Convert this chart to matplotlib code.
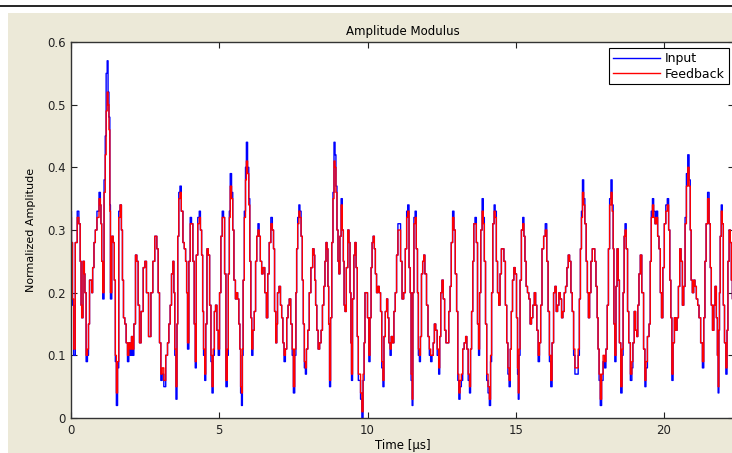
import matplotlib
matplotlib.use("Agg")
import matplotlib.pyplot as plt
from matplotlib.patches import Rectangle
from matplotlib.lines import Line2D

# sample times in microseconds
t_us = [
    0.00, 0.03, 0.07, 0.11, 0.18, 0.24, 0.29, 0.33, 0.35, 0.37,
    0.44, 0.46, 0.48, 0.54, 0.57, 0.61, 0.64, 0.69, 0.71, 0.75,
    0.80, 0.84, 0.91, 0.98, 1.00, 1.02, 1.05, 1.09, 1.14, 1.17,
    1.20, 1.24, 1.26, 1.30, 1.32, 1.34, 1.41, 1.44, 1.48, 1.51,
    1.55, 1.59, 1.63, 1.68, 1.72, 1.75, 1.79, 1.84, 1.88, 1.93,
    1.97, 2.02, 2.06, 2.09, 2.15, 2.20, 2.24, 2.29, 2.33, 2.40,
    2.47, 2.51, 2.58, 2.65, 2.74, 2.78, 2.87, 2.92, 2.96, 3.01,
    3.05, 3.10, 3.16, 3.23, 3.28, 3.32, 3.37, 3.41, 3.46, 3.48,
    3.52, 3.56, 3.59, 3.61, 3.66, 3.69, 3.75, 3.80, 3.84, 3.89,
    3.91, 3.95, 4.00, 4.04, 4.09, 4.13, 4.18, 4.20, 4.25, 4.30,
    4.35, 4.38, 4.43, 4.45, 4.49, 4.53, 4.56, 4.61, 4.65, 4.70,
    4.74, 4.77, 4.82, 4.85, 4.90, 4.94, 4.99, 5.03, 5.08, 5.12,
    5.17, 5.19, 5.26, 5.28, 5.33, 5.35, 5.39, 5.44, 5.47, 5.52,
    5.57,
    5.60, 5.64, 5.68, 5.71, 5.73, 5.77, 5.79, 5.82, 5.87, 5.90,
    5.93, 5.98, 6.01, 6.05, 6.08, 6.11, 6.16, 6.20, 6.25, 6.28,
    6.33, 6.36, 6.41, 6.45, 6.50, 6.57, 6.61, 6.66, 6.71, 6.77,
    6.81, 6.85, 6.88, 6.93, 6.95, 6.98, 7.05, 7.08, 7.13, 7.16,
    7.21, 7.25, 7.30, 7.34, 7.38, 7.44, 7.48, 7.52, 7.57, 7.60,
    7.62, 7.67, 7.70, 7.74, 7.78, 7.82, 7.85, 7.89, 7.92, 7.96,
    8.01, 8.06, 8.12, 8.18, 8.21, 8.23, 8.27, 8.31, 8.36, 8.41,
    8.46, 8.50, 8.55, 8.58, 8.62, 8.65, 8.68, 8.70, 8.74, 8.77,
    8.82, 8.85, 8.89, 8.92, 8.95, 8.99, 9.02, 9.05, 9.09, 9.13,
    9.17, 9.20, 9.22, 9.26, 9.31, 9.36, 9.39, 9.43, 9.45, 9.47,
    9.52, 9.56, 9.59, 9.64, 9.67, 9.71, 9.74, 9.79, 9.83, 9.87,
    9.90, 9.93, 9.98, 10.02, 10.07, 10.10, 10.14, 10.17, 10.21, 10.25,
    10.28, 10.33, 10.37, 10.42, 10.46, 10.50, 10.54, 10.57, 10.63, 10.66,
    10.70, 10.74, 10.78, 10.82, 10.87, 10.91, 10.96, 11.00, 11.05, 11.09,
    11.14, 11.19,
    11.25, 11.30, 11.34, 11.37, 11.43, 11.45, 11.49, 11.52, 11.54, 11.59,
    11.62, 11.67, 11.70, 11.73, 11.77, 11.80, 11.84, 11.88, 11.91, 11.96,
    12.02, 12.06, 12.11, 12.15, 12.20, 12.23, 12.28, 12.32, 12.38, 12.42,
    12.45, 12.49, 12.53, 12.58, 12.62, 12.67, 12.71, 12.77, 12.80, 12.85,
    12.89, 12.94, 12.98, 13.03, 13.06, 13.10, 13.14, 13.19, 13.23, 13.29,
    13.33, 13.37, 13.42, 13.46, 13.49, 13.53, 13.57, 13.60, 13.65, 13.69,
    13.73, 13.76, 13.80, 13.84, 13.89, 13.92, 13.96, 14.00, 14.04, 14.09,
    14.13, 14.17, 14.20, 14.25, 14.29, 14.32, 14.37, 14.40, 14.45, 14.49,
    14.54, 14.57, 14.63, 14.67, 14.72, 14.75, 14.80, 14.83, 14.87, 14.91,
    14.96, 15.00, 15.05, 15.07, 15.10, 15.12, 15.17, 15.21, 15.26, 15.29,
    15.33, 15.37, 15.42, 15.46, 15.51, 15.55, 15.60, 15.65, 15.69, 15.73,
    15.78, 15.82, 15.86, 15.91, 15.97, 16.02, 16.07, 16.11, 16.16, 16.20,
    16.25, 16.30, 16.34, 16.39, 16.43, 16.48, 16.52, 16.57, 16.61, 16.66,
    16.70, 16.75, 16.79, 16.84,
    16.88, 16.93, 16.97, 17.02, 17.08, 17.13, 17.16, 17.20, 17.23, 17.27,
    17.31, 17.35, 17.40, 17.43, 17.47, 17.51, 17.56, 17.60, 17.65, 17.68,
    17.73, 17.76, 17.79, 17.83, 17.87, 17.92, 17.97, 18.02, 18.06, 18.11,
    18.14, 18.19, 18.23, 18.27, 18.30, 18.32, 18.36, 18.40, 18.43, 18.48,
    18.51, 18.57, 18.60, 18.64, 18.67, 18.70, 18.75, 18.79, 18.83, 18.90,
    18.93, 18.97, 19.02, 19.06, 19.10, 19.13, 19.18, 19.22, 19.28, 19.34,
    19.37, 19.41, 19.47, 19.52, 19.55, 19.59, 19.63, 19.67, 19.72, 19.76,
    19.81, 19.85, 19.90, 19.93, 19.99, 20.03, 20.09, 20.13, 20.18, 20.21,
    20.25, 20.28, 20.33, 20.37, 20.42, 20.46, 20.51, 20.55, 20.60, 20.64,
    20.69, 20.73, 20.78, 20.82, 20.87, 20.90, 20.93, 20.98, 21.02, 21.07,
    21.11, 21.16, 21.20, 21.27, 21.32, 21.36, 21.40, 21.44, 21.50, 21.54,
    21.58, 21.61, 21.66, 21.70, 21.74, 21.79, 21.81, 21.84, 21.86, 21.88,
    21.91, 21.95, 21.98, 22.02, 22.06, 22.11, 22.14, 22.17, 22.22, 22.25,
    22.29, 22.32,
]

input_amp = [
    0.33, 0.28, 0.18, 0.10, 0.28, 0.33, 0.31, 0.25, 0.18, 0.16,
    0.25, 0.23, 0.20, 0.09, 0.10, 0.15, 0.22, 0.22, 0.20, 0.24,
    0.28, 0.30, 0.33, 0.36, 0.34, 0.31, 0.25, 0.19, 0.38, 0.45,
    0.55, 0.57, 0.52, 0.48, 0.34, 0.19, 0.29, 0.28, 0.22, 0.09,
    0.02, 0.08, 0.33, 0.34, 0.30, 0.22, 0.16, 0.15, 0.12, 0.09,
    0.12, 0.10, 0.13, 0.10, 0.15, 0.26, 0.25, 0.18, 0.12, 0.17,
    0.24, 0.25, 0.20, 0.13, 0.20, 0.25, 0.29, 0.27, 0.20, 0.12,
    0.06, 0.07, 0.05, 0.10, 0.12, 0.15, 0.18, 0.23, 0.25, 0.20,
    0.10, 0.03, 0.15, 0.29, 0.36, 0.37, 0.33, 0.28, 0.27, 0.25,
    0.20, 0.11, 0.25, 0.32, 0.31, 0.25, 0.15, 0.08, 0.26, 0.32,
    0.33, 0.30, 0.26, 0.17, 0.10, 0.06, 0.15, 0.27, 0.26, 0.18,
    0.09, 0.04, 0.10, 0.17, 0.18, 0.14, 0.10, 0.20, 0.29, 0.33,
    0.32, 0.23, 0.05, 0.10, 0.23, 0.33, 0.39, 0.36, 0.30, 0.22,
    0.19,
    0.20, 0.19, 0.15, 0.11, 0.04, 0.02, 0.10, 0.22, 0.33, 0.40,
    0.44, 0.40, 0.35, 0.25, 0.16, 0.10, 0.14, 0.17, 0.25, 0.29,
    0.31, 0.29, 0.25, 0.23, 0.24, 0.20, 0.16, 0.23, 0.28, 0.32,
    0.30, 0.27, 0.17, 0.12, 0.15, 0.20, 0.21, 0.18, 0.16, 0.12,
    0.09, 0.11, 0.16, 0.18, 0.19, 0.15, 0.10, 0.04, 0.10, 0.20,
    0.27, 0.32, 0.34, 0.33, 0.29, 0.22, 0.15, 0.08, 0.07, 0.11,
    0.14, 0.20, 0.24, 0.27, 0.26, 0.22, 0.18, 0.14, 0.11, 0.12,
    0.14, 0.18, 0.21, 0.25, 0.28, 0.27, 0.21, 0.15, 0.05, 0.16,
    0.28, 0.36, 0.44, 0.42, 0.37, 0.30, 0.25, 0.23, 0.29, 0.35,
    0.30, 0.25, 0.18, 0.17, 0.24, 0.30, 0.28, 0.20, 0.12, 0.06,
    0.19, 0.26, 0.28, 0.24, 0.13, 0.06, 0.06, 0.03, 0.00, 0.06,
    0.12, 0.20, 0.20, 0.16, 0.09, 0.16, 0.24, 0.28, 0.29, 0.27,
    0.23, 0.20, 0.21, 0.20, 0.17, 0.08, 0.05, 0.13, 0.17, 0.19,
    0.16, 0.12, 0.10, 0.13, 0.12, 0.17, 0.20, 0.26, 0.31, 0.31,
    0.25, 0.19,
    0.20, 0.27, 0.33, 0.34, 0.24, 0.20, 0.06, 0.02, 0.20, 0.32,
    0.33, 0.27, 0.20, 0.10, 0.09, 0.13, 0.23, 0.25, 0.26, 0.23,
    0.18, 0.13, 0.10, 0.09, 0.10, 0.12, 0.15, 0.14, 0.10, 0.07,
    0.13, 0.20, 0.22, 0.19, 0.14, 0.12, 0.12, 0.17, 0.21, 0.28,
    0.33, 0.30, 0.23, 0.17, 0.06, 0.03, 0.05, 0.06, 0.11, 0.12,
    0.13, 0.11, 0.06, 0.04, 0.11, 0.17, 0.25, 0.31, 0.32, 0.28,
    0.15, 0.10, 0.20, 0.30, 0.35, 0.32, 0.25, 0.15, 0.06, 0.04,
    0.02, 0.09, 0.20, 0.31, 0.34, 0.33, 0.25, 0.20, 0.18, 0.23,
    0.27, 0.27, 0.25, 0.18, 0.12, 0.07, 0.05, 0.11, 0.17, 0.22,
    0.24, 0.23, 0.16, 0.07, 0.03, 0.10, 0.22, 0.30, 0.32, 0.29,
    0.25, 0.21, 0.20, 0.19, 0.15, 0.16, 0.18, 0.20, 0.18, 0.14,
    0.09, 0.12, 0.18, 0.27, 0.29, 0.31, 0.25, 0.17, 0.09, 0.05,
    0.12, 0.20, 0.21, 0.17, 0.18, 0.20, 0.19, 0.16, 0.17, 0.20,
    0.21, 0.24, 0.26, 0.25,
    0.20, 0.17, 0.10, 0.07, 0.07, 0.10, 0.19, 0.27, 0.33, 0.38,
    0.35, 0.31, 0.25, 0.20, 0.16, 0.20, 0.25, 0.27, 0.27, 0.25,
    0.21, 0.16, 0.11, 0.06, 0.02, 0.06, 0.09, 0.08, 0.11, 0.18,
    0.27, 0.35, 0.38, 0.34, 0.27, 0.15, 0.09, 0.21, 0.27, 0.22,
    0.12, 0.04, 0.10, 0.20, 0.29, 0.31, 0.27, 0.17, 0.12, 0.06,
    0.08, 0.12, 0.17, 0.14, 0.13, 0.18, 0.23, 0.26, 0.20, 0.11,
    0.05, 0.08, 0.13, 0.15, 0.25, 0.33, 0.35, 0.33, 0.31, 0.33,
    0.29, 0.27, 0.20, 0.16, 0.24, 0.31, 0.34, 0.35, 0.30, 0.22,
    0.16, 0.06, 0.12, 0.16, 0.14, 0.16, 0.21, 0.27, 0.25, 0.18,
    0.21, 0.32, 0.39, 0.42, 0.38, 0.30, 0.22, 0.20, 0.22, 0.21,
    0.19, 0.18, 0.16, 0.12, 0.08, 0.16, 0.25, 0.31, 0.36, 0.31,
    0.24, 0.18, 0.14, 0.18, 0.21, 0.16, 0.10, 0.04, 0.14, 0.20,
    0.29, 0.34, 0.31, 0.18, 0.12, 0.07, 0.14, 0.25, 0.30, 0.28,
    0.22, 0.19,
]

feedback_amp = [
    0.32, 0.28, 0.19, 0.11, 0.28, 0.32, 0.31, 0.25, 0.18, 0.16,
    0.25, 0.23, 0.20, 0.10, 0.11, 0.15, 0.22, 0.22, 0.20, 0.24,
    0.28, 0.30, 0.32, 0.35, 0.34, 0.31, 0.25, 0.20, 0.36, 0.42,
    0.49, 0.52, 0.50, 0.46, 0.33, 0.20, 0.29, 0.28, 0.22, 0.10,
    0.04, 0.09, 0.32, 0.34, 0.30, 0.22, 0.16, 0.15, 0.12, 0.10,
    0.12, 0.11, 0.13, 0.11, 0.15, 0.26, 0.25, 0.18, 0.12, 0.17,
    0.24, 0.25, 0.20, 0.13, 0.20, 0.25, 0.29, 0.27, 0.20, 0.12,
    0.07, 0.08, 0.06, 0.10, 0.12, 0.15, 0.18, 0.23, 0.25, 0.20,
    0.11, 0.05, 0.15, 0.29, 0.35, 0.36, 0.33, 0.28, 0.27, 0.25,
    0.20, 0.12, 0.25, 0.31, 0.31, 0.25, 0.15, 0.09, 0.26, 0.31,
    0.32, 0.30, 0.26, 0.17, 0.11, 0.07, 0.15, 0.27, 0.26, 0.18,
    0.10, 0.05, 0.11, 0.17, 0.18, 0.14, 0.11, 0.20, 0.29, 0.32,
    0.32, 0.23, 0.06, 0.11, 0.23, 0.32, 0.37, 0.35, 0.30, 0.22,
    0.19,
    0.20, 0.19, 0.15, 0.11, 0.05, 0.04, 0.11, 0.22, 0.32, 0.38,
    0.41, 0.39, 0.34, 0.25, 0.16, 0.11, 0.14, 0.17, 0.25, 0.29,
    0.30, 0.29, 0.25, 0.23, 0.24, 0.20, 0.16, 0.23, 0.28, 0.31,
    0.30, 0.27, 0.17, 0.12, 0.15, 0.20, 0.21, 0.18, 0.16, 0.12,
    0.10, 0.11, 0.16, 0.18, 0.19, 0.15, 0.11, 0.05, 0.11, 0.20,
    0.27, 0.31, 0.33, 0.32, 0.29, 0.22, 0.15, 0.09, 0.08, 0.11,
    0.14, 0.20, 0.24, 0.27, 0.26, 0.22, 0.18, 0.14, 0.11, 0.12,
    0.14, 0.18, 0.21, 0.25, 0.28, 0.27, 0.21, 0.15, 0.06, 0.16,
    0.28, 0.35, 0.41, 0.40, 0.36, 0.30, 0.25, 0.23, 0.29, 0.34,
    0.30, 0.25, 0.18, 0.17, 0.24, 0.30, 0.28, 0.20, 0.12, 0.07,
    0.19, 0.26, 0.28, 0.24, 0.13, 0.07, 0.07, 0.04, 0.01, 0.07,
    0.12, 0.20, 0.20, 0.16, 0.10, 0.16, 0.24, 0.28, 0.29, 0.27,
    0.23, 0.20, 0.21, 0.20, 0.17, 0.09, 0.06, 0.13, 0.17, 0.19,
    0.16, 0.12, 0.11, 0.13, 0.12, 0.17, 0.20, 0.26, 0.30, 0.30,
    0.25, 0.19,
    0.20, 0.27, 0.32, 0.33, 0.24, 0.20, 0.07, 0.03, 0.20, 0.31,
    0.32, 0.27, 0.20, 0.11, 0.10, 0.13, 0.23, 0.25, 0.26, 0.23,
    0.18, 0.13, 0.11, 0.10, 0.10, 0.12, 0.15, 0.14, 0.11, 0.08,
    0.13, 0.20, 0.22, 0.19, 0.14, 0.12, 0.12, 0.17, 0.21, 0.28,
    0.32, 0.30, 0.23, 0.17, 0.07, 0.04, 0.06, 0.07, 0.11, 0.12,
    0.13, 0.11, 0.07, 0.05, 0.11, 0.17, 0.25, 0.31, 0.31, 0.28,
    0.15, 0.11, 0.20, 0.30, 0.33, 0.31, 0.25, 0.15, 0.07, 0.05,
    0.03, 0.10, 0.20, 0.31, 0.33, 0.32, 0.25, 0.20, 0.18, 0.23,
    0.27, 0.27, 0.25, 0.18, 0.12, 0.08, 0.06, 0.11, 0.17, 0.22,
    0.24, 0.23, 0.16, 0.08, 0.04, 0.11, 0.22, 0.30, 0.31, 0.29,
    0.25, 0.21, 0.20, 0.19, 0.15, 0.16, 0.18, 0.20, 0.18, 0.14,
    0.10, 0.12, 0.18, 0.27, 0.29, 0.30, 0.25, 0.17, 0.10, 0.06,
    0.12, 0.20, 0.21, 0.17, 0.18, 0.20, 0.19, 0.16, 0.17, 0.20,
    0.21, 0.24, 0.26, 0.25,
    0.20, 0.17, 0.11, 0.08, 0.08, 0.11, 0.19, 0.27, 0.32, 0.36,
    0.34, 0.31, 0.25, 0.20, 0.16, 0.20, 0.25, 0.27, 0.27, 0.25,
    0.21, 0.16, 0.11, 0.07, 0.03, 0.07, 0.10, 0.09, 0.11, 0.18,
    0.27, 0.34, 0.36, 0.33, 0.27, 0.15, 0.10, 0.21, 0.27, 0.22,
    0.12, 0.05, 0.11, 0.20, 0.29, 0.30, 0.27, 0.17, 0.12, 0.07,
    0.09, 0.12, 0.17, 0.14, 0.13, 0.18, 0.23, 0.26, 0.20, 0.11,
    0.06, 0.09, 0.13, 0.15, 0.25, 0.32, 0.34, 0.32, 0.31, 0.32,
    0.29, 0.27, 0.20, 0.16, 0.24, 0.31, 0.33, 0.34, 0.30, 0.22,
    0.16, 0.07, 0.12, 0.16, 0.14, 0.16, 0.21, 0.27, 0.25, 0.18,
    0.21, 0.31, 0.37, 0.40, 0.37, 0.30, 0.22, 0.20, 0.22, 0.21,
    0.19, 0.18, 0.16, 0.12, 0.09, 0.16, 0.25, 0.31, 0.35, 0.31,
    0.24, 0.18, 0.14, 0.18, 0.21, 0.16, 0.10, 0.05, 0.14, 0.20,
    0.29, 0.33, 0.31, 0.18, 0.12, 0.08, 0.14, 0.25, 0.30, 0.28,
    0.22, 0.19,
]

yticks = [0, 0.1, 0.2, 0.3, 0.4, 0.5, 0.6]
ytick_labels = ["0", "0.1", "0.2", "0.3", "0.4", "0.5", "0.6"]
xticks = [0, 5, 10, 15, 20]

W, H = 732, 453
fig = plt.figure(figsize=(W / 100, H / 100), dpi=100, facecolor="white")

# window panel and the rule above it
fig.add_artist(Rectangle((8 / W, 0), 1, 1 - 13 / H, transform=fig.transFigure,
                         facecolor="#ECE9D8", edgecolor="none", zorder=-10))
fig.add_artist(Line2D([0, 1], [1 - 5.5 / H] * 2, transform=fig.transFigure,
                      color="black", lw=1.2))

ax = fig.add_axes([71 / W, 35 / H, 663 / W, 376 / H])
ax.set_facecolor("white")

ax.plot(t_us, input_amp, color="#0000FF", lw=1.0, drawstyle="steps-mid", label="Input")
ax.plot(t_us, feedback_amp, color="#FF0000", lw=1.0, drawstyle="steps-mid", label="Feedback")

ax.set_xlim(0, 22.36)
ax.set_ylim(0, 0.6)
ax.set_xticks(xticks)
ax.set_yticks(yticks)
ax.set_yticklabels(ytick_labels)
ax.tick_params(direction="in", length=4.5, width=0.8, top=True, right=True,
               labelsize=8.5, colors="#222222", pad=4)
for s in ax.spines.values():
    s.set_color("#333333")
    s.set_linewidth(1.0)

ax.set_title("Amplitude Modulus", fontsize=8.5, pad=5)
ax.set_xlabel("Time [\u03bcs]", fontsize=8.5, labelpad=2)
ax.set_ylabel("Normalized Amplitude", fontsize=8, labelpad=8)

leg = ax.legend(loc="upper right", bbox_to_anchor=(0.992, 0.983), borderaxespad=0,
                fontsize=9, fancybox=False, framealpha=1, handlelength=3.8,
                handletextpad=0.4, borderpad=0.3, labelspacing=0.2)
leg.get_frame().set_edgecolor("black")
leg.get_frame().set_linewidth(0.8)

fig.savefig("out.png", dpi=100, facecolor=fig.get_facecolor())
